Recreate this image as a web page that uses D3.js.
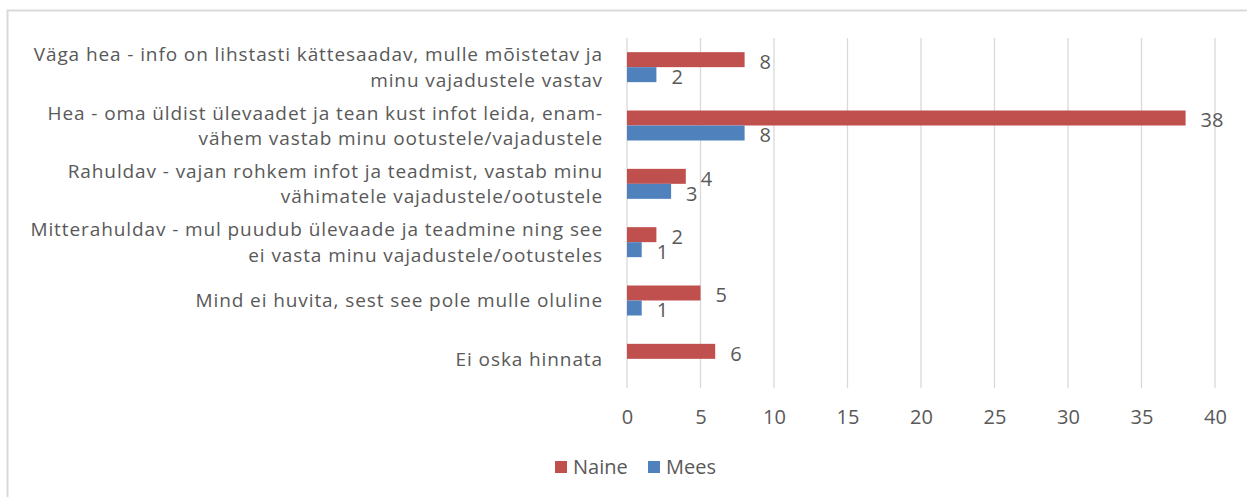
<!DOCTYPE html>
<html>
<head>
<meta charset="utf-8">
<script src="https://cdn.jsdelivr.net/npm/d3@7"></script>
<style>
  body { margin: 0; background: #fff; }
  text { font-family: "Open Sans", "Noto Sans", sans-serif; fill: #595959; }
</style>
</head>
<body>
<svg id="chart"></svg>
<script>
// data
var categories = [
    "Väga hea - info on lihstasti kättesaadav, mulle mõistetav ja\nminu vajadustele vastav",
    "Hea - oma üldist ülevaadet ja tean kust infot leida, enam-\nvähem vastab minu ootustele/vajadustele",
    "Rahuldav - vajan rohkem infot ja teadmist, vastab minu\nvähimatele vajadustele/ootustele",
    "Mitterahuldav - mul puudub ülevaade ja teadmine ning see\nei vasta minu vajadustele/ootusteles",
    "Mind ei huvita, sest see pole mulle oluline",
    "Ei oska hinnata"
];
var seriesNames = ["Naine", "Mees"];
var naine = [8, 38, 4, 2, 5, 6];
var mees = [2, 8, 3, 1, 1, null];
var xTicks = [0, 5, 10, 15, 20, 25, 30, 35, 40];

var colors = {"Naine": "#C0504D", "Mees": "#4F81BD"};

var w = 1247, h = 497;
var svg = d3.select("#chart").attr("width", w).attr("height", h);

// frame (only top and left edges show in the picture)
svg.append("rect")
    .attr("x", 7.5).attr("y", 10.5)
    .attr("width", w + 20).attr("height", h + 20)
    .attr("fill", "none").attr("stroke", "#d9d9d9").attr("stroke-width", 2);

var x = d3.scaleLinear().domain([0, 40]).range([627, 1215]);

var y0 = d3.scaleBand().domain(categories).range([38, 388])
    .paddingInner(0.486).paddingOuter(0.243);

var y1 = d3.scaleBand().domain(seriesNames).range([0, y0.bandwidth()]);

// gridlines
svg.append("g").selectAll("line")
    .data(xTicks)
    .enter().append("line")
    .attr("x1", function(d) { return x(d); })
    .attr("x2", function(d) { return x(d); })
    .attr("y1", 38).attr("y2", 388)
    .attr("stroke", "#d9d9d9").attr("stroke-width", 1.3);

// x tick labels
var xAxis = svg.append("g")
    .attr("transform", "translate(0,417)")
    .call(d3.axisBottom(x).tickValues(xTicks).tickSize(0).tickPadding(0));
xAxis.select(".domain").remove();
xAxis.selectAll("text")
    .attr("font-size", 20)
    .attr("dy", "0.36em")
    .style("font-family", "'Open Sans', 'Noto Sans', sans-serif")
    .attr("fill", "#595959");

// rows
var rows = categories.map(function(c, i) {
    return {cat: c, values: [
        {name: "Naine", value: naine[i]},
        {name: "Mees", value: mees[i]}
    ]};
});

var group = svg.append("g").selectAll("g")
    .data(rows)
    .enter().append("g")
    .attr("transform", function(d) { return "translate(0," + y0(d.cat) + ")"; });

var bars = group.selectAll("g.bar")
    .data(function(d) { return d.values.filter(function(v) { return v.value != null; }); })
    .enter().append("g").attr("class", "bar");

bars.append("rect")
    .attr("x", x(0))
    .attr("y", function(d) { return y1(d.name); })
    .attr("width", function(d) { return x(d.value) - x(0); })
    .attr("height", y1.bandwidth())
    .attr("fill", function(d) { return colors[d.name]; });

bars.append("text")
    .attr("x", function(d) { return x(d.value) + 15; })
    .attr("y", function(d) { return y1(d.name) + y1.bandwidth() / 2 + 2; })
    .attr("dy", "0.36em")
    .attr("font-size", 20)
    .text(function(d) { return d.value; });

// category labels
var catLabels = svg.append("g").selectAll("text")
    .data(categories)
    .enter().append("text")
    .attr("text-anchor", "end")
    .attr("font-size", 19)
    .style("letter-spacing", "0.9px")
    .attr("y", function(d) { return y0(d) + y0.bandwidth() / 2; });

catLabels.each(function(d) {
    var lines = d.split("\n");
    var t = d3.select(this);
    lines.forEach(function(line, i) {
        t.append("tspan")
            .attr("x", 603)
            .attr("dy", i === 0 ? (0.36 - (lines.length - 1) * 0.66) + "em" : "1.32em")
            .text(line);
    });
});

// legend
var legend = svg.append("g").attr("transform", "translate(555,467)");
var legItems = legend.selectAll("g")
    .data(seriesNames)
    .enter().append("g")
    .attr("transform", function(d, i) { return "translate(" + (i * 93) + ",0)"; });
legItems.append("rect")
    .attr("x", 0).attr("y", -6)
    .attr("width", 12).attr("height", 12)
    .attr("fill", function(d) { return colors[d]; });
legItems.append("text")
    .attr("x", 18).attr("dy", "0.36em")
    .attr("font-size", 20)
    .text(function(d) { return d; });
</script>
</body>
</html>
